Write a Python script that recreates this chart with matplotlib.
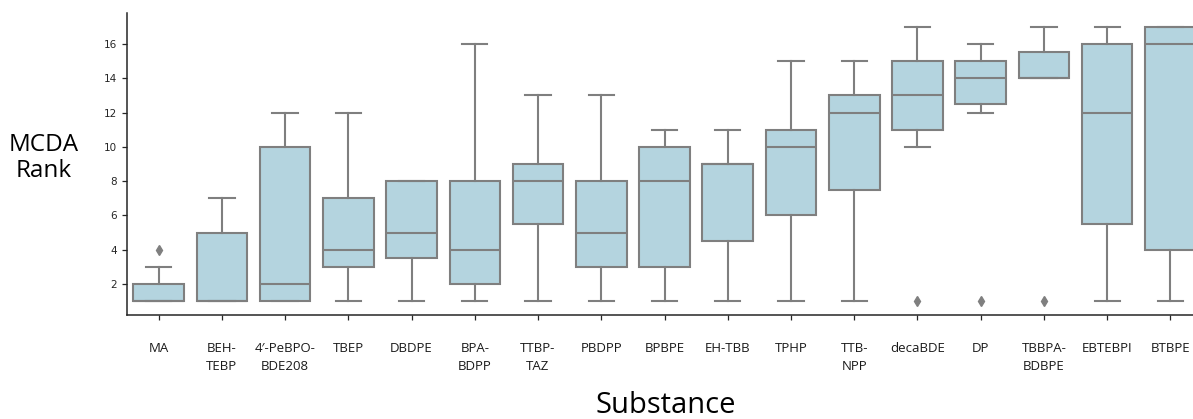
import matplotlib
matplotlib.use("Agg")
import matplotlib.pyplot as plt
from matplotlib import font_manager

substances = ["MA", "BEH-\nTEBP", "4\u2032-PeBPO-\nBDE208", "TBEP", "DBDPE", "BPA-\nBDPP",
              "TTBP-\nTAZ", "PBDPP", "BPBPE", "EH-TBB", "TPHP", "TTB-\nNPP", "decaBDE",
              "DP", "TBBPA-\nBDBPE", "EBTEBPI", "BTBPE"]
whisker_low = [1, 1, 1, 1, 1, 1, 1, 1, 1, 1, 1, 1, 10, 12, 14, 1, 1]
q1 = [1, 1, 1, 3, 3.5, 2, 5.5, 3, 3, 4.5, 6, 7.5, 11, 12.5, 14, 5.5, 4]
median = [1, 1, 2, 4, 5, 4, 8, 5, 8, 9, 10, 12, 13, 14, 14, 12, 16]
q3 = [2, 5, 10, 7, 8, 8, 9, 8, 10, 9, 11, 13, 15, 15, 15.5, 16, 17]
whisker_high = [3, 7, 12, 12, 8, 16, 13, 13, 11, 11, 15, 15, 17, 16, 17, 17, 17]
outliers = [[4], [], [], [], [], [], [], [], [], [], [], [], [1], [1], [1], [], []]
yticks = [2, 4, 6, 8, 10, 12, 14, 16]

avail = {f.name for f in font_manager.fontManager.ttflist}
title_font = "Open Sans" if "Open Sans" in avail else "DejaVu Sans"

fig = plt.figure(figsize=(11.93, 4.19), dpi=100)
ax = fig.add_axes([127 / 1193, 104 / 419, 1075 / 1193, 302 / 419])

stats = []
for i in range(len(substances)):
    stats.append(dict(whislo=whisker_low[i], q1=q1[i], med=median[i], q3=q3[i],
                      whishi=whisker_high[i], fliers=outliers[i], label=substances[i]))

gray = "#7f7f7f"
ax.bxp(stats, positions=range(len(substances)), widths=0.8, capwidths=0.4,
       patch_artist=True, showfliers=True,
       boxprops=dict(facecolor="#b4d4df", edgecolor=gray, linewidth=1.5),
       medianprops=dict(color=gray, linewidth=1.5),
       whiskerprops=dict(color=gray, linewidth=1.5),
       capprops=dict(color=gray, linewidth=1.5),
       flierprops=dict(marker="d", markerfacecolor=gray, markeredgecolor=gray,
                       markersize=5))

ax.set_xlim(-0.5, len(substances) - 0.5)
ax.set_ylim(0.2, 17.8)
ax.set_yticks(yticks)
ax.set_yticklabels([str(t) for t in yticks], fontsize=7.5, color="#262626")
ax.set_xticks(range(len(substances)))
ax.set_xticklabels(substances, fontsize=9.5, family=title_font, color="#1a1a1a",
                   linespacing=1.45)
ax.tick_params(axis="both", length=3.5, width=0.9, color="#262626")
ax.tick_params(axis="x", pad=16)
for s in ["top", "right"]:
    ax.spines[s].set_visible(False)
for s in ["left", "bottom"]:
    ax.spines[s].set_color("#262626")
    ax.spines[s].set_linewidth(1.1)

fig.text(44 / 1193, 1 - 158 / 419, "MCDA\nRank", ha="center", va="center",
         fontsize=17.5, family=title_font, linespacing=1.1)
fig.text(666 / 1193, 1 - 405 / 419, "Substance", ha="center", va="center",
         fontsize=21, family=title_font)

fig.savefig("out.png", dpi=100)
